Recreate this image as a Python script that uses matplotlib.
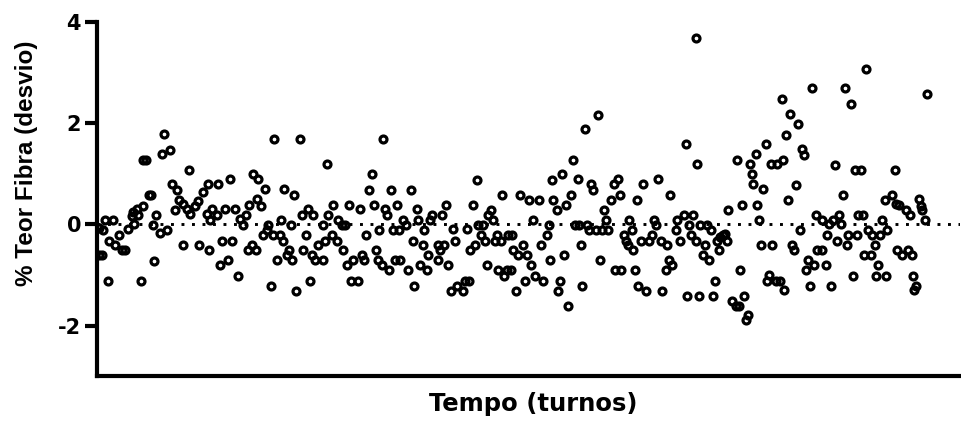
import matplotlib
matplotlib.use("Agg")
import matplotlib.pyplot as plt

plt.rcParams['font.family'] = ['Liberation Sans', 'DejaVu Sans']

# turn positions (arbitrary units) and deviation values
turno = [
    164, 146, 143, 162, 170, 189, 172, 177, 149, 151, 179, 183, 175, 187, 190, 195, 198, 203,
    143, 137, 133, 132, 138, 156, 105, 113, 99, 103, 153, 160, 167, 134, 128, 119, 109, 115,
    122, 125, 183, 199, 99, 102, 154, 108, 141,
    274, 300, 253, 258, 230, 208, 218, 265, 284, 294, 257, 261, 249, 212, 225, 235, 207, 217,
    246, 308, 302, 313, 210, 240, 281, 243, 268, 291, 267, 263, 273, 280, 306, 283, 222, 232,
    318, 252, 209, 248, 256, 289, 303, 287, 312, 277, 292, 315, 228, 220, 238, 271, 296, 310,
    383, 327, 372, 369, 391, 411, 333, 349, 374, 397, 360, 385, 417, 387, 328, 432, 338, 403,
    418, 430, 323, 342, 345, 406, 379, 393, 399, 424, 366, 332, 325, 337, 413, 423, 343, 376,
    362, 428, 323, 353, 364, 378, 395, 400, 347, 382, 420, 389, 408, 427, 351, 358, 414,
    477, 552, 502, 520, 529, 539, 553, 446, 473, 491, 442, 488, 533, 493, 478, 483, 549, 453,
    467, 508, 512, 481, 497, 547, 455, 485, 495, 501, 438, 444, 475, 523, 541, 440, 470, 513,
    518, 527, 550, 438, 448, 487, 531, 498, 507, 511, 504, 535, 543, 465, 469, 525, 457, 451,
    463, 516,
    599, 586, 574, 562, 579, 592, 619, 615, 644, 659, 594, 572, 621, 612, 638, 566, 557, 605,
    607, 630, 655, 576, 580, 588, 657, 590, 597, 603, 609, 633, 625, 653, 642, 650, 662, 627,
    629, 582, 634, 564, 601, 616, 622, 636, 560, 583, 639, 558, 647, 663, 568,
    697, 687, 698, 767, 757, 738, 751, 772, 778, 753, 754, 764, 671, 743, 758, 729, 685, 694,
    678, 760, 690, 701, 708, 677, 712, 692, 724, 681, 697, 718, 728, 721, 726, 668, 706, 762,
    773, 720, 704, 710, 670, 673, 667, 741, 770, 716, 768, 777, 781, 688, 700, 714, 745, 733,
    737, 740, 749, 747, 785,
    867, 813, 846, 852, 783, 791, 799, 787, 803, 805, 784, 836, 856, 862, 896, 797, 844, 789,
    893, 886, 897, 817, 840, 859, 864, 823, 834, 883, 830, 842, 801, 869, 888, 828, 849, 858,
    873, 881, 838, 793, 848, 876, 795, 818, 823, 898, 865, 872, 809, 879, 815, 827, 807, 854,
    877, 887, 811, 832,
    928, 920, 900, 922, 923, 907, 911, 926, 909, 903, 913, 914, 917, 915,
]
desvio = [
    1.79, 1.28, 1.28, 1.39, 1.48, 1.08, 0.79, 0.68, 0.58, 0.58, 0.49, 0.41, 0.29, 0.31, 0.21, 0.37, 0.47, 0.64,
    0.37, 0.31, 0.24, 0.16, 0.18, 0.18, 0.08, 0.08, -0.08, -0.12, -0.02, -0.18, -0.12, 0.01, -0.10, -0.22, -0.32, -0.41,
    -0.51, -0.51, -0.41, -0.41, -0.61, -0.61, -0.72, -1.12, -1.12,
    1.69, 1.69, 1.00, 0.89, 0.89, 0.79, 0.79, 0.69, 0.69, 0.59, 0.51, 0.37, 0.39, 0.30, 0.30, 0.30, 0.21, 0.18,
    0.19, 0.30, 0.18, 0.18, 0.08, 0.10, 0.09, -0.02, -0.02, -0.02, -0.12, -0.22, -0.22, -0.22, -0.22, -0.32, -0.32, -0.32,
    -0.41, -0.41, -0.51, -0.51, -0.51, -0.51, -0.51, -0.61, -0.61, -0.71, -0.71, -0.71, -0.71, -0.81, -1.02, -1.22, -1.32, -1.12,
    1.69, 1.20, 0.99, 0.68, 0.68, 0.68, 0.39, 0.39, 0.39, 0.39, 0.30, 0.30, 0.30, 0.18, 0.19, 0.18, 0.09, 0.09,
    0.09, 0.08, -0.02, -0.02, -0.02, -0.02, -0.12, -0.12, -0.12, -0.12, -0.22, -0.22, -0.32, -0.32, -0.32, -0.41, -0.51, -0.51,
    -0.61, -0.61, -0.71, -0.71, -0.71, -0.71, -0.71, -0.71, -0.81, -0.81, -0.81, -0.91, -0.91, -0.91, -1.12, -1.12, -1.22,
    0.88, 0.88, 0.58, 0.58, 0.49, 0.49, 0.49, 0.39, 0.39, 0.29, 0.19, 0.19, 0.09, 0.09, -0.02, -0.02, -0.02, -0.10,
    -0.10, -0.22, -0.22, -0.22, -0.22, -0.22, -0.32, -0.32, -0.32, -0.32, -0.41, -0.41, -0.41, -0.41, -0.41, -0.51, -0.51, -0.51,
    -0.61, -0.61, -0.71, -0.71, -0.81, -0.81, -0.81, -0.91, -0.91, -0.91, -1.02, -1.02, -1.12, -1.12, -1.12, -1.12, -1.22, -1.32,
    -1.32, -1.32,
    2.17, 1.89, 1.28, 0.99, 0.89, 0.79, 0.89, 0.79, 0.79, 0.89, 0.68, 0.59, 0.59, 0.49, 0.49, 0.39, 0.29, 0.29,
    0.09, 0.09, 0.09, -0.02, -0.02, -0.02, -0.02, -0.12, -0.12, -0.12, -0.12, -0.12, -0.22, -0.22, -0.32, -0.32, -0.32, -0.32,
    -0.41, -0.41, -0.51, -0.61, -0.71, -0.91, -0.91, -0.91, -1.12, -1.22, -1.22, -1.32, -1.32, -1.32, -1.61,
    3.69, 1.59, 1.20, 1.59, 1.39, 1.28, 1.20, 1.20, 1.20, 1.00, 0.79, 0.69, 0.58, 0.39, 0.39, 0.29, 0.19, 0.19,
    0.09, 0.09, -0.02, -0.02, -0.02, -0.12, -0.12, -0.22, -0.22, -0.32, -0.32, -0.32, -0.32, -0.25, -0.20, -0.41, -0.41, -0.41,
    -0.41, -0.51, -0.61, -0.71, -0.71, -0.81, -0.91, -0.91, -1.00, -1.12, -1.12, -1.12, -1.12, -1.41, -1.41, -1.41, -1.41, -1.51,
    -1.61, -1.61, -1.80, -1.90, -1.30,
    3.08, 2.69, 2.69, 2.38, 2.48, 2.18, 1.98, 1.77, 1.49, 1.38, 1.28, 1.18, 1.08, 1.08, 1.08, 0.78, 0.58, 0.49,
    0.58, 0.49, 0.41, 0.19, 0.19, 0.19, 0.19, 0.09, 0.09, 0.09, 0.01, 0.01, -0.12, -0.12, -0.12, -0.22, -0.22, -0.22,
    -0.22, -0.22, -0.32, -0.41, -0.41, -0.41, -0.51, -0.51, -0.51, -0.51, -0.61, -0.61, -0.71, -0.81, -0.81, -0.81, -0.91, -1.02,
    -1.02, -1.02, -1.22, -1.22,
    2.58, 0.51, 0.39, 0.37, 0.28, 0.28, 0.18, 0.08, -0.51, -0.61, -0.61, -1.02, -1.22, -1.30,
]

y_ticks = [-2, 0, 2, 4]
y_tick_labels = ["-2", "0", "2", "4"]

fig = plt.figure(figsize=(9.61, 4.24), dpi=100)
ax = fig.add_axes([0.101, 0.113, 0.898, 0.835])

ax.axhline(0, color="black", linestyle=(0, (1, 2.6)), linewidth=2.1, zorder=1)
ax.plot(turno, desvio, linestyle="none", marker="o", markersize=5.0,
        markerfacecolor="none", markeredgecolor="black", markeredgewidth=2.3, zorder=3)

ax.set_xlim(97, 961)
ax.set_ylim(-3, 4)
ax.set_yticks(y_ticks)
ax.set_yticklabels(y_tick_labels, fontsize=15, fontweight="bold",
                   family=["DejaVu Sans"])
ax.set_xticks([])

for s in ["top", "right"]:
    ax.spines[s].set_visible(False)
for s in ["left", "bottom"]:
    ax.spines[s].set_linewidth(3.0)
ax.spines["left"].set_bounds(-3, 4)
ax.tick_params(axis="y", length=9, width=3.0, pad=2.5, direction="out")

ax.set_ylabel("% Teor Fibra (desvio)", fontsize=17.5, fontweight="bold")
ax.yaxis.set_label_coords(-0.069, 0.60)
ax.set_xlabel("Tempo (turnos)", fontsize=17.5, fontweight="bold",
              family=["DejaVu Sans"], va="top")
ax.xaxis.set_label_coords(0.505, -0.045)

fig.savefig("out.png", dpi=100)
